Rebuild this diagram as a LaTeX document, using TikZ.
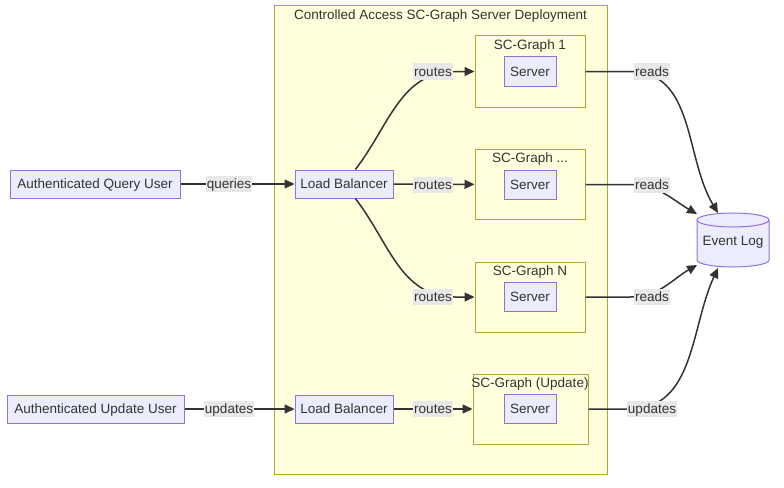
\documentclass[tikz,border=0pt]{standalone}
\usepackage{fontspec}
\setmainfont{Liberation Sans}
\usetikzlibrary{arrows.meta}
\definecolor{nodefill}{HTML}{ECECFF}
\definecolor{nodeborder}{HTML}{9370DB}
\definecolor{clfill}{HTML}{FFFFDE}
\definecolor{clborder}{HTML}{AAAA33}
\definecolor{ink}{HTML}{333333}
\definecolor{lblbg}{HTML}{E8E8E8}
\begin{document}
\begin{tikzpicture}[x=1pt,y=-1pt,
  font=\fontsize{13.5}{16}\selectfont, text=ink,
  txt/.style={text height=9.7pt, text depth=0pt},
  box/.style={txt, draw=nodeborder, fill=nodefill, line width=1pt, minimum height=28pt, inner sep=0pt},
  srv/.style={box, minimum width=52pt, minimum height=29pt},
  cluster/.style={draw=clborder, fill=clfill, line width=1pt, inner sep=0pt},
  ttl/.style={txt, inner sep=0pt, text=ink},
  lbl/.style={txt, fill=lblbg, inner xsep=1pt, inner ysep=0pt, minimum height=16pt, text=ink},
  conn/.style={draw=ink, line width=1.5pt, -{Triangle[length=10pt,width=9pt]}}]
\useasboundingbox (0,0) rectangle (784,487);
% clusters
\node[cluster, minimum width=333pt, minimum height=468pt] (outer) at (440.5,240) {};
\node[ttl] (touter) at (440.5,14.5) {Controlled Access SC-Graph Server Deployment};
\node[cluster, minimum width=110pt, minimum height=71pt] (sc1) at (530,71.5) {};
\node[cluster, minimum width=110pt, minimum height=70pt] (sc2) at (530,184.5) {};
\node[cluster, minimum width=110pt, minimum height=70pt] (sc3) at (530,297) {};
\node[cluster, minimum width=115pt, minimum height=70pt] (sc4) at (530.5,409) {};
\node[ttl] (t1) at (530,44.5) {SC-Graph 1};
\node[ttl] (t2) at (530,157.5) {SC-Graph ...};
\node[ttl] (t3) at (530,270.5) {SC-Graph N};
\node[ttl] (t4) at (530,382.5) {SC-Graph (Update)};
% nodes
\node[box, minimum width=170pt] (qu) at (95,184) {Authenticated Query User};
\node[box, minimum width=177pt] (uu) at (95.5,409) {Authenticated Update User};
\node[box, minimum width=98pt] (lb1) at (344,184) {Load Balancer};
\node[box, minimum width=98pt] (lb2) at (344,409) {Load Balancer};
\node[srv] (s1) at (530,71.5) {Server};
\node[srv] (s2) at (530,184.5) {Server};
\node[srv] (s3) at (530,296.5) {Server};
\node[srv] (s4) at (530,409) {Server};
% event log cylinder
\node[inner sep=0pt, minimum width=72pt, minimum height=54pt] (ev) at (733,240) {};
\draw[draw=nodeborder, fill=nodefill, line width=1pt]
  (697,220) -- (697,260) arc[start angle=180, end angle=360, x radius=36pt, y radius=7pt]
  -- (769,220) arc[start angle=0, end angle=180, x radius=36pt, y radius=7pt] -- cycle;
\draw[draw=nodeborder, line width=1pt]
  (697,220) arc[start angle=180, end angle=360, x radius=36pt, y radius=7pt];
\node[ttl] (evt) at (733,241) {Event Log};
% helper coordinates
\coordinate (k1) at (455,71.5);
\coordinate (k3) at (455,297);
\coordinate (m1) at (630,71.5);
\coordinate (m2) at (630,184.5);
\coordinate (m3) at (630,297);
\coordinate (m4) at (630,409);
\coordinate (e1) at (718,213);
\coordinate (e2) at (697,214);
\coordinate (e3) at (697,265);
\coordinate (e4) at (718,268);
% edges
\draw[conn] (qu) -- (lb1);
\draw[conn] (uu) -- (lb2);
\draw[conn] (lb1) -- (sc2);
\draw[conn] (lb2) -- (sc4);
\draw[conn] (lb1) to[out=52, in=180] (k1) -- (sc1);
\draw[conn] (lb1) to[out=-52, in=180] (k3) -- (sc3);
\draw[conn] (sc1) -- (m1) to[out=0, in=121] (e1);
\draw[conn] (sc2) -- (m2) to[out=0, in=150] (e2);
\draw[conn] (sc3) -- (m3) to[out=0, in=210] (e3);
\draw[conn] (sc4) -- (m4) to[out=0, in=245] (e4);
% edge labels
\node[lbl] (lq) at (229,184) {queries};
\node[lbl] (lu) at (229,409) {updates};
\node[lbl] (r1) at (433,71.5) {routes};
\node[lbl] (r2) at (433,184.5) {routes};
\node[lbl] (r3) at (433,297) {routes};
\node[lbl] (r4) at (433,409) {routes};
\node[lbl] (d1) at (652,71.5) {reads};
\node[lbl] (d2) at (652,184.5) {reads};
\node[lbl] (d3) at (652,297) {reads};
\node[lbl] (d4) at (652,409) {updates};
\end{tikzpicture}
\end{document}
